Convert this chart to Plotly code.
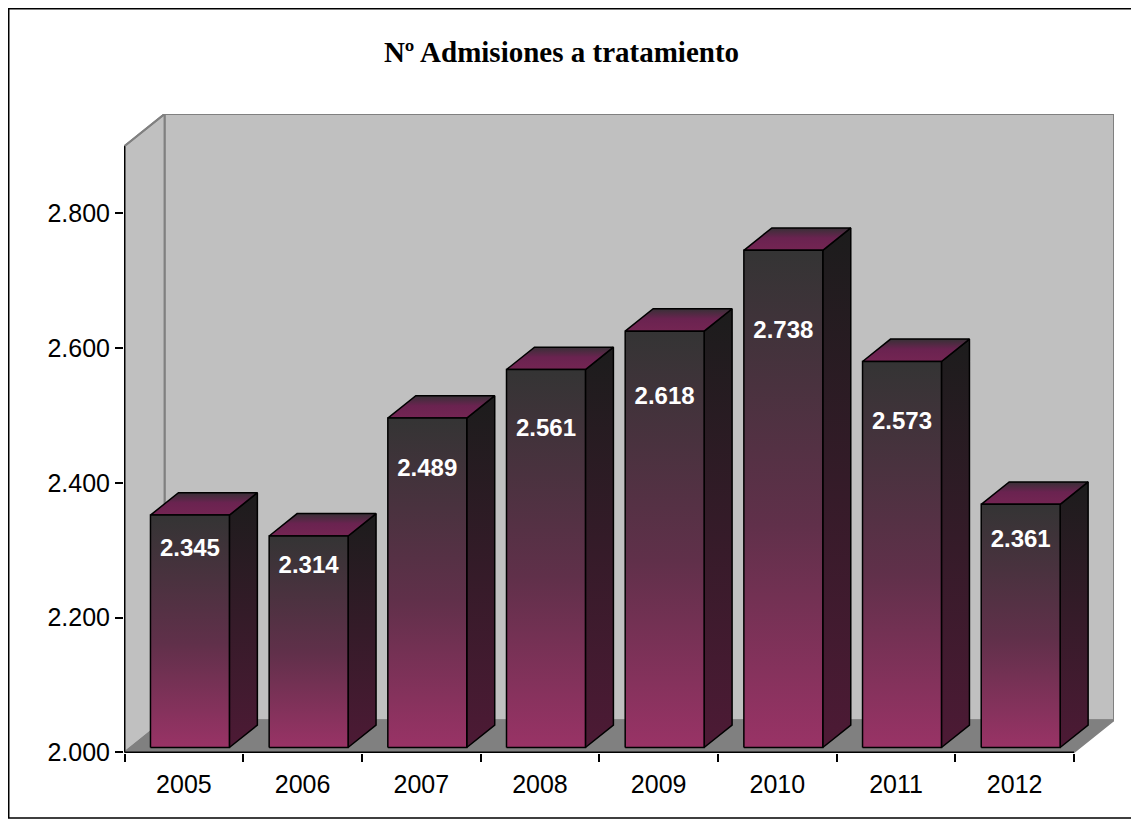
import plotly.graph_objects as go

# ---- data ----
years = ["2005", "2006", "2007", "2008", "2009", "2010", "2011", "2012"]
values = [2345, 2314, 2489, 2561, 2618, 2738, 2573, 2361]
value_labels = ["2.345", "2.314", "2.489", "2.561", "2.618", "2.738", "2.573", "2.361"]
y_tickvals = [2000, 2200, 2400, 2600, 2800]
y_ticktext = ["2.000", "2.200", "2.400", "2.600", "2.800"]
title_text = "Nº Admisiones a tratamiento"

# ---- 3D geometry (style) ----
YMIN, YMAX = 2000, 2900
N = len(years)
DX = 40 / 118.75      # depth offset in category units
DY = 47.5             # depth offset in value units
F0, F1 = 0.15, 0.85   # bar depth span
GAP = 0.1675

# page has an 8px body margin; figure is sized/offset to compensate
OFF = 8
W, H = 1139 - OFF, 820 - OFF
ML, MT = 124 - OFF, 114 - OFF
MR = W - (1114 - OFF)
MB = H - (753 - OFF)

def P(x, y, f):
    return x + f * DX, y + f * DY

def poly(pts):
    xs = [p[0] for p in pts] + [pts[0][0]]
    ys = [p[1] for p in pts] + [pts[0][1]]
    return xs, ys

fig = go.Figure()

def add_poly(pts, fill=None, line_color="black", line_width=1.5, grad=None):
    xs, ys = poly(pts)
    kw = dict(x=xs, y=ys, mode="lines", fill="toself",
              line=dict(color=line_color, width=line_width),
              hoverinfo="skip", showlegend=False)
    if grad is not None:
        kw["fillgradient"] = dict(type="vertical", colorscale=grad)
    else:
        kw["fillcolor"] = fill
    fig.add_trace(go.Scatter(**kw))

# back wall
add_poly([P(0, YMIN, 1), P(N, YMIN, 1), P(N, YMAX, 1), P(0, YMAX, 1)],
         fill="#C0C0C0", line_color="#808080", line_width=2)
# side wall
add_poly([P(0, YMIN, 0), P(0, YMIN, 1), P(0, YMAX, 1), P(0, YMAX, 0)],
         fill="#C0C0C0", line_color="#808080", line_width=2)
# floor
add_poly([P(0, YMIN, 0), P(N, YMIN, 0), P(N, YMIN, 1), P(0, YMIN, 1)],
         fill="#808080", line_color="#808080", line_width=1.5)

front_grad = [[0, "#993366"], [0.45, "#60304a"], [1, "#343434"]]
top_grad = [[0, "#742553"], [0.55, "#6a2350"], [1, "#383036"]]
side_grad = [[0, "#4d1a35"], [1, "#1c1c1c"]]

for i, v in enumerate(values):
    x0, x1 = i + GAP, i + 1 - GAP
    # side
    add_poly([P(x1, YMIN, F0), P(x1, YMIN, F1), P(x1, v, F1), P(x1, v, F0)], grad=side_grad)
    # top
    add_poly([P(x0, v, F0), P(x1, v, F0), P(x1, v, F1), P(x0, v, F1)], grad=top_grad)
    # front
    add_poly([P(x0, YMIN, F0), P(x1, YMIN, F0), P(x1, v, F0), P(x0, v, F0)], grad=front_grad)

# axis lines
fig.add_trace(go.Scatter(x=[0, 0], y=[YMIN, YMAX], mode="lines",
                         line=dict(color="black", width=1.5), hoverinfo="skip", showlegend=False))
fig.add_trace(go.Scatter(x=[0, N], y=[YMIN, YMIN], mode="lines",
                         line=dict(color="black", width=1.5), hoverinfo="skip", showlegend=False))
# diagonal from axis top to wall corner
fig.add_trace(go.Scatter(x=[0, DX], y=[YMAX, YMAX + DY], mode="lines",
                         line=dict(color="#808080", width=2), hoverinfo="skip", showlegend=False))

# data labels
lab_x = [i + 0.5 + F0 * DX for i in range(N)]
lab_y = [YMIN + 0.825 * (v - YMIN) + 15.5 for v in values]
fig.add_trace(go.Scatter(x=lab_x, y=lab_y, mode="text", text=value_labels,
                         textfont=dict(family="Arial, Liberation Sans", size=24, color="white",
                                       weight="bold"),
                         hoverinfo="skip", showlegend=False))

plot_w = W - ML - MR
plot_h = H - MT - MB

def px_x(px):
    return (px - ML) / plot_w

def px_y(py):
    return (H - MB - py) / plot_h

fig.update_layout(
    width=W, height=H,
    margin=dict(l=ML, r=MR, t=MT, b=MB, pad=0),
    paper_bgcolor="white", plot_bgcolor="white",
    title=dict(text="<b>" + title_text + "</b>", x=(561.5 - OFF) / W, xanchor="center",
               y=1 - (52 - OFF) / H, yanchor="middle",
               font=dict(family="Times New Roman, Liberation Serif", size=29, color="black")),
    xaxis=dict(range=[-0.005, N + DX], showgrid=False, zeroline=False, showline=False,
               tickvals=[i + 0.5 for i in range(N)], ticktext=years,
               ticks="outside", ticklen=9, tickcolor="rgba(0,0,0,0)",
               tickfont=dict(family="Arial, Liberation Sans", size=25, color="black"),
               minor=dict(tickvals=list(range(N + 1)), ticks="outside", ticklen=8,
                          tickcolor="black", tickwidth=1.5),
               fixedrange=True),
    yaxis=dict(range=[YMIN - 1, YMAX + DY], showgrid=False, zeroline=False, showline=False,
               tickvals=y_tickvals, ticktext=y_ticktext,
               ticks="outside", ticklen=8, tickcolor="black", tickwidth=1.5,
               tickfont=dict(family="Arial, Liberation Sans", size=25, color="black"),
               fixedrange=True),
    shapes=[dict(type="rect", xref="paper", yref="paper",
                 x0=px_x(0.75), x1=px_x(1129), y0=px_y(810), y1=px_y(0.75),
                 line=dict(color="black", width=1.5), fillcolor="rgba(0,0,0,0)", layer="above")],
)

fig.write_html("out.html")
